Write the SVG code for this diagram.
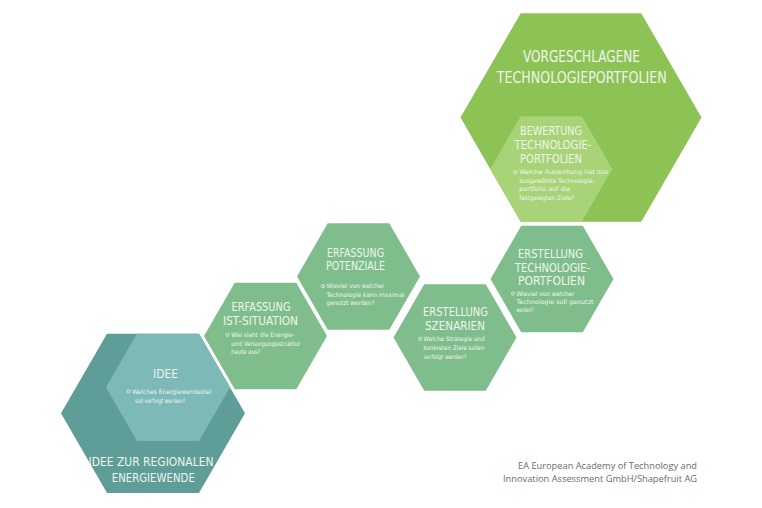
<svg xmlns="http://www.w3.org/2000/svg" width="762" height="508" viewBox="0 0 762 508">
<style>
.title{font-family:"DejaVu Sans Condensed","Liberation Sans Narrow","DejaVu Sans",sans-serif;fill:#eef5ec;text-anchor:middle}
.t14{font-size:11.8px}
.t13{font-size:12.4px}
.t16{font-size:15px}
.body{font-family:"DejaVu Sans Condensed","Liberation Sans Narrow","DejaVu Sans",sans-serif;font-size:6.2px;fill:#eef5ec}
.bul{fill:none;stroke:#eef5ec;stroke-width:0.8}
.credit{font-family:"Open Sans","Liberation Sans",sans-serif;font-size:8.6px;fill:#6b6b6b;text-anchor:end}
.teal{fill:#5f9d99}
.tealL{fill:#7dbab7}
.mint{fill:#7fbe8c}
.lime{fill:#8dc254}
.limeL{fill:#a9d377}
</style>
<rect width="762" height="508" fill="#ffffff"/>

<g id="idee-regional">
<polygon class="teal" points="245,413.3 199,492.97 107,492.97 61,413.3 107,333.63 199,333.63"/>
<text class="title t13" x="151" y="466" textLength="125" lengthAdjust="spacingAndGlyphs">IDEE ZUR REGIONALEN</text>
<text class="title t13" x="153.3" y="481.7" textLength="83" lengthAdjust="spacingAndGlyphs">ENERGIEWENDE</text>
</g>

<g id="idee">
<polygon class="tealL" points="230,387.32 199,441.01 137,441.01 106,387.32 137,333.63 199,333.63"/>
<text class="title t14" x="165.5" y="378.3" textLength="25" lengthAdjust="spacingAndGlyphs">IDEE</text>
<circle class="bul" cx="128.5" cy="391.3" r="1.5"/>
<text class="body" x="132.3" y="393.5" textLength="79" lengthAdjust="spacingAndGlyphs">Welches Energiewendeziel</text>
<text class="body" x="135" y="403" textLength="50" lengthAdjust="spacingAndGlyphs">soll verfolgt werden?</text>
</g>

<g id="erfassung-ist">
<polygon class="mint" points="327,336 296.25,389.26 234.75,389.26 204,336 234.75,282.74 296.25,282.74"/>
<text class="title t14" x="261" y="311.3" textLength="59" lengthAdjust="spacingAndGlyphs">ERFASSUNG</text>
<text class="title t14" x="260.5" y="325.3" textLength="75" lengthAdjust="spacingAndGlyphs">IST-SITUATION</text>
<circle class="bul" cx="227.5" cy="334.8" r="1.5"/>
<text class="body" x="231.3" y="337" textLength="63" lengthAdjust="spacingAndGlyphs">Wie sieht die Energie-</text>
<text class="body" x="231.3" y="345.5" textLength="69" lengthAdjust="spacingAndGlyphs">und Versorgungsstruktur</text>
<text class="body" x="231.3" y="354" textLength="29" lengthAdjust="spacingAndGlyphs">heute aus?</text>
</g>

<g id="erfassung-potenziale">
<polygon class="mint" points="420,276.5 389.25,329.76 327.75,329.76 297,276.5 327.75,223.24 389.25,223.24"/>
<text class="title t14" x="355.5" y="256.7" textLength="57" lengthAdjust="spacingAndGlyphs">ERFASSUNG</text>
<text class="title t14" x="355.5" y="270.3" textLength="59" lengthAdjust="spacingAndGlyphs">POTENZIALE</text>
<circle class="bul" cx="323" cy="286.2" r="1.5"/>
<text class="body" x="326.5" y="288.4" textLength="58" lengthAdjust="spacingAndGlyphs">Wieviel von welcher</text>
<text class="body" x="326.5" y="296.7" textLength="78" lengthAdjust="spacingAndGlyphs">Technologie kann maximal</text>
<text class="body" x="326.5" y="304.6" textLength="48" lengthAdjust="spacingAndGlyphs">genutzt werden?</text>
</g>

<g id="erstellung-szenarien">
<polygon class="mint" points="516.5,337.5 485.75,390.76 424.25,390.76 393.5,337.5 424.25,284.24 485.75,284.24"/>
<text class="title t14" x="455.5" y="316.3" textLength="65" lengthAdjust="spacingAndGlyphs">ERSTELLUNG</text>
<text class="title t14" x="455" y="329.9" textLength="60" lengthAdjust="spacingAndGlyphs">SZENARIEN</text>
<circle class="bul" cx="420" cy="338.8" r="1.5"/>
<text class="body" x="423.5" y="341" textLength="61" lengthAdjust="spacingAndGlyphs">Welche Strategie und</text>
<text class="body" x="423.5" y="349.8" textLength="61" lengthAdjust="spacingAndGlyphs">konkreten Ziele sollen</text>
<text class="body" x="423.5" y="358.6" textLength="43" lengthAdjust="spacingAndGlyphs">verfolgt werden?</text>
</g>

<g id="erstellung-portfolien">
<polygon class="mint" points="613.5,279 582.75,332.26 521.25,332.26 490.5,279 521.25,225.74 582.75,225.74"/>
<text class="title t14" x="550.5" y="258.1" textLength="65" lengthAdjust="spacingAndGlyphs">ERSTELLUNG</text>
<text class="title t14" x="552.5" y="271.7" textLength="75" lengthAdjust="spacingAndGlyphs">TECHNOLOGIE-</text>
<text class="title t14" x="551.5" y="285.2" textLength="67" lengthAdjust="spacingAndGlyphs">PORTFOLIEN</text>
<circle class="bul" cx="513" cy="293.5" r="1.5"/>
<text class="body" x="516.5" y="295.7" textLength="58" lengthAdjust="spacingAndGlyphs">Wieviel von welcher</text>
<text class="body" x="516.5" y="304.2" textLength="77" lengthAdjust="spacingAndGlyphs">Technologie soll genutzt</text>
<text class="body" x="516.5" y="312.4" textLength="17" lengthAdjust="spacingAndGlyphs">werden?</text>
</g>

<g id="vorgeschlagene-portfolien">
<polygon class="lime" points="701.5,117.5 641.25,221.86 520.75,221.86 460.5,117.5 520.75,13.14 641.25,13.14"/>
<text class="title t16" x="581.5" y="61.7" textLength="117" lengthAdjust="spacingAndGlyphs">VORGESCHLAGENE</text>
<text class="title t16" x="581.7" y="82.7" textLength="170" lengthAdjust="spacingAndGlyphs">TECHNOLOGIEPORTFOLIEN</text>
</g>

<g id="bewertung-portfolien">
<polygon class="limeL" points="612.25,169.03 581.75,221.86 520.75,221.86 490.25,169.03 520.75,116.2 581.75,116.2"/>
<text class="title t14" x="551" y="135" textLength="62" lengthAdjust="spacingAndGlyphs">BEWERTUNG</text>
<text class="title t14" x="553" y="149.3" textLength="77" lengthAdjust="spacingAndGlyphs">TECHNOLOGIE-</text>
<text class="title t14" x="551" y="163.3" textLength="62" lengthAdjust="spacingAndGlyphs">PORTFOLIEN</text>
<circle class="bul" cx="515.3" cy="172.2" r="1.5"/>
<text class="body" x="519.3" y="174.4" textLength="89" lengthAdjust="spacingAndGlyphs">Welche Auswirkung hat das</text>
<text class="body" x="519.3" y="182.9" textLength="75" lengthAdjust="spacingAndGlyphs">ausgewählte Technologie-</text>
<text class="body" x="519.3" y="191.2" textLength="51" lengthAdjust="spacingAndGlyphs">portfolio auf die</text>
<text class="body" x="519.3" y="199.8" textLength="55" lengthAdjust="spacingAndGlyphs">festgelegten Ziele?</text>
</g>

<g id="credit">
<text class="credit" x="697" y="469" textLength="179" lengthAdjust="spacingAndGlyphs">EA European Academy of Technology and</text>
<text class="credit" x="697" y="481.7" textLength="194" lengthAdjust="spacingAndGlyphs">Innovation Assessment GmbH/Shapefruit AG</text>
</g>
</svg>
